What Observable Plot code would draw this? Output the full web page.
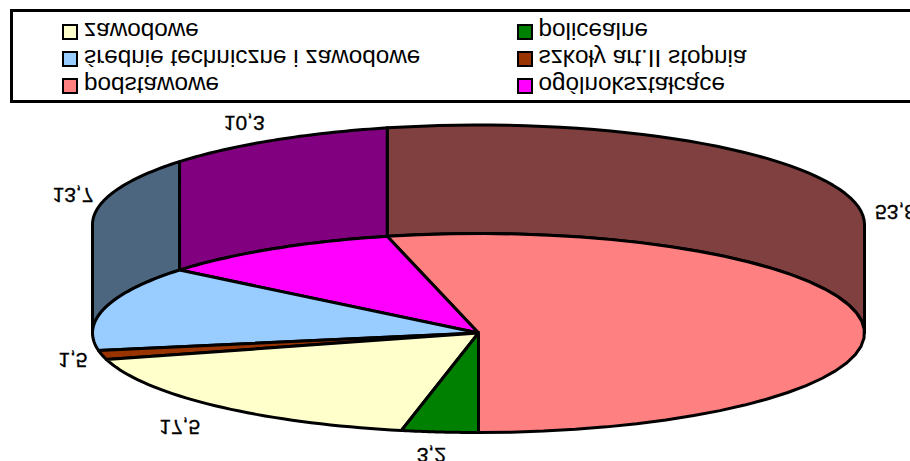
<!DOCTYPE html>
<html lang="pl"><head><meta charset="utf-8">
<script src="https://cdn.jsdelivr.net/npm/d3@7"></script>
<script src="https://cdn.jsdelivr.net/npm/@observablehq/plot@0.6"></script>
<style>
html,body{margin:0;padding:0;background:#fff;overflow:hidden}
#page{position:relative;width:910px;height:461px;overflow:hidden;transform:scaleY(-1);font-family:"Liberation Sans",Arial,sans-serif;color:#000}
#page svg{position:absolute;left:0;top:0;display:block}
#legend{position:absolute;left:10px;top:358px;width:1000px;height:94px;box-sizing:border-box;border:3px solid #000;background:#fff}
.item{position:absolute;display:flex;align-items:center;height:20px;font-size:24.3px;line-height:20px;white-space:nowrap}
.sw{display:inline-block;width:16px;height:16px;box-sizing:border-box;border:2.5px solid #000;margin-right:6px}
.tx{position:relative;top:1px}
</style></head><body>
<div id="page"><div id="chart"></div><div id="legend"></div></div>
<script>
const categories = ["podstawowe","ogólnokształcące","średnie techniczne i zawodowe","szkoły art.II stopnia","zawodowe","policealne"];
const shares = [53.8,10.3,13.7,1.5,17.5,3.2];
const topColors = ["#FF8080","#FF00FF","#99CCFF","#993300","#FFFFCC","#008000"];
const wallColors = ["#804040","#800080","#4D6680","#4D1A00","#808066","#004000"];
const labelNudges = [[4,-2],[-12.5,-1],[-3,-1],[0,0],[-15,-5],[-5.5,-1]]; // px, fine placement of labels
const depth = 1.09;

const rad = d => d * Math.PI / 180;
const pt = a => [Math.sin(rad(a)), Math.cos(rad(a))];
const arc = (a0, a1) => d3.range(0, 41).map(i => pt(a0 + (a1 - a0) * i / 40));

let cum = 0;
const slices = categories.map((name, i) => {
  const a0 = cum * 3.6; cum += shares[i]; const a1 = cum * 3.6;
  return {name, value: shares[i], a0, a1, mid: (a0 + a1) / 2, i};
});

const faces = [], walls = [];
for (const s of slices) {
  const poly = [[0,0], ...arc(s.a0, s.a1), [0,0]];
  poly.forEach(([x,y]) => faces.push({x, y, s: s.name, c: topColors[s.i]}));
  const w0 = Math.max(s.a0, 90), w1 = Math.min(s.a1, 270);
  if (w1 > w0) {
    const a = arc(w0, w1);
    const ring = [...a, ...a.slice().reverse().map(([x,y]) => [x, y - depth]), a[0]];
    ring.forEach(([x,y]) => walls.push({x, y, s: s.name, c: wallColors[s.i]}));
  }
}

const labelMarks = slices.map(s => {
  const [x, y] = pt(s.mid);
  const back = y < 0;
  return Plot.text([{x, y: back ? y - depth : y, t: String(s.value).replace(".", ",")}], {
    x: "x", y: "y", text: "t",
    dx: 30 * x + labelNudges[s.i][0],
    dy: -22 * y + labelNudges[s.i][1],
    fontSize: 21, fontFamily: "Liberation Sans", fill: "#000", stroke: "#000", strokeWidth: 0.3
  });
});

const lineOpts = {x: "x", y: "y", z: "s", fill: "c", stroke: "#000", strokeWidth: 3, strokeLinejoin: "round", curve: "linear"};
const chart = Plot.plot({
  width: 910, height: 461, margin: 0,
  x: {domain: [-1, 1], range: [92, 864], axis: null},
  y: {domain: [-1, 1], range: [227, 28], axis: null},
  style: {background: "transparent"},
  marks: [
    Plot.line(walls, lineOpts),
    Plot.line(faces, lineOpts),
    ...labelMarks
  ]
});
document.getElementById("chart").append(chart);

const legend = document.getElementById("legend");
slices.forEach((s, i) => {
  const el = document.createElement("div");
  el.className = "item";
  const col = i % 2;
  const row = Math.floor(i / 2);
  el.style.left = (col ? 503.5 : 49) + "px";
  el.style.top = (4 + row * 27) + "px";
  el.innerHTML = `<span class="sw" style="background:${topColors[i]}"></span><span class="tx">${s.name}</span>`;
  legend.append(el);
});
</script>
</body></html>
